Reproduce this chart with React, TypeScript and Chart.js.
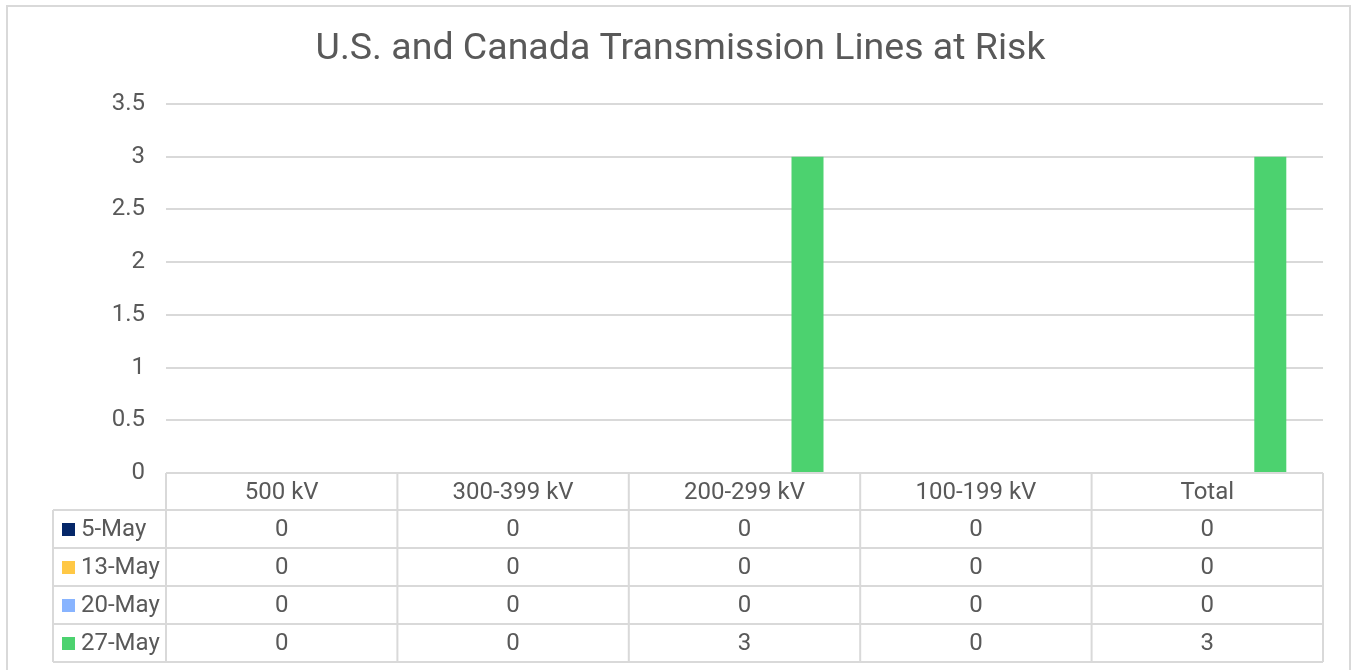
import React, { useEffect, useRef } from "react";
import { Chart, registerables } from "chart.js";

Chart.register(...registerables);

const chartTitle = "U.S. and Canada Transmission Lines at Risk";
const categories = ["500 kV", "300-399 kV", "200-299 kV", "100-199 kV", "Total"];
const seriesNames = ["5-May", "13-May", "20-May", "27-May"];
const may5 = [0, 0, 0, 0, 0];
const may13 = [0, 0, 0, 0, 0];
const may20 = [0, 0, 0, 0, 0];
const may27 = [0, 0, 3, 0, 3];
const seriesValues = [may5, may13, may20, may27];
const seriesColors = ["#052769", "#FFC845", "#88B4FF", "#4CD26F"];

const TEXT = "#595959";
const GRID = "#d9d9d9";
const FONT = "Roboto";

const framePlugin = {
  id: "frame",
  beforeDraw(chart: any) {
    const ctx = chart.ctx;
    ctx.save();
    ctx.fillStyle = "#ffffff";
    ctx.fillRect(0, 0, chart.width, chart.height);
    ctx.strokeStyle = GRID;
    ctx.lineWidth = 2;
    ctx.strokeRect(7, 6, 1343, 720);
    ctx.restore();
  },
};

const tablePlugin = {
  id: "dataTable",
  afterDraw(chart: any) {
    const ctx = chart.ctx;
    const area = chart.chartArea;
    const n = categories.length;
    const colW = (area.right - area.left) / n;
    const top = area.bottom;
    const headH = 37;
    const rowH = 38;
    const legendLeft = area.left - 113;
    const bottom = top + headH + rowH * seriesNames.length;

    ctx.save();
    ctx.strokeStyle = GRID;
    ctx.lineWidth = 2;
    ctx.beginPath();
    ctx.moveTo(area.left, top);
    ctx.lineTo(area.right, top);
    for (let r = 0; r <= seriesNames.length; r++) {
      const y = top + headH + r * rowH;
      ctx.moveTo(legendLeft, y);
      ctx.lineTo(area.right, y);
    }
    for (let c = 0; c <= n; c++) {
      const x = area.left + c * colW;
      ctx.moveTo(x, top);
      ctx.lineTo(x, bottom);
    }
    ctx.moveTo(legendLeft, top + headH);
    ctx.lineTo(legendLeft, bottom);
    ctx.stroke();

    ctx.fillStyle = TEXT;
    ctx.font = `24px ${FONT}`;
    ctx.textBaseline = "middle";
    ctx.textAlign = "center";
    const xs = chart.scales.x;
    categories.forEach((cat, i) => {
      const cx = xs.getPixelForValue(i);
      ctx.fillText(cat, cx, top + headH / 2 + 1);
    });
    seriesNames.forEach((name, r) => {
      const cy = top + headH + r * rowH + rowH / 2 + 1;
      ctx.fillStyle = seriesColors[r];
      ctx.fillRect(legendLeft + 9, cy - 7, 13, 13);
      ctx.fillStyle = TEXT;
      ctx.textAlign = "left";
      ctx.fillText(name, legendLeft + 28, cy);
      ctx.textAlign = "center";
      seriesValues[r].forEach((v, i) => {
        ctx.fillText(String(v), xs.getPixelForValue(i), cy);
      });
    });
    ctx.restore();
  },
};

export default function App() {
  const ref = useRef<HTMLCanvasElement | null>(null);
  useEffect(() => {
    if (!ref.current) return;
    const chart = new Chart(ref.current, {
      type: "bar",
      data: {
        labels: categories,
        datasets: seriesNames.map((name, i) => ({
          label: name,
          data: seriesValues[i],
          backgroundColor: seriesColors[i],
          borderWidth: 0,
          categoryPercentage: 0.726,
          barPercentage: 0.762,
        })),
      },
      options: {
        animation: false,
        responsive: true,
        maintainAspectRatio: false,
        layout: { padding: { left: 38, right: 30, top: 0, bottom: 197 } },
        plugins: {
          legend: { display: false },
          tooltip: { enabled: false },
          title: {
            display: true,
            text: chartTitle,
            color: TEXT,
            font: { family: FONT, size: 37.5, weight: "normal" as any, lineHeight: 1.2 },
            padding: { top: 27, bottom: 32 },
          },
        },
        scales: {
          x: {
            display: false,
          },
          y: {
            min: 0,
            max: 3.5,
            afterFit: (scale: any) => {
              scale.width = 128;
            },
            ticks: {
              stepSize: 0.5,
              color: TEXT,
              padding: 21,
              font: { family: FONT, size: 24 },
              callback: (value: any) => String(Number(value)),
            },
            grid: { color: GRID, lineWidth: 2, drawTicks: false },
            border: { display: false },
          },
        },
      },
      plugins: [framePlugin, tablePlugin],
    });
    return () => chart.destroy();
  }, []);
  return (
    <div style={{ position: "fixed", left: 0, top: 0, width: 1353, height: 670, background: "#fff" }}>
      <canvas ref={ref} />
    </div>
  );
}
